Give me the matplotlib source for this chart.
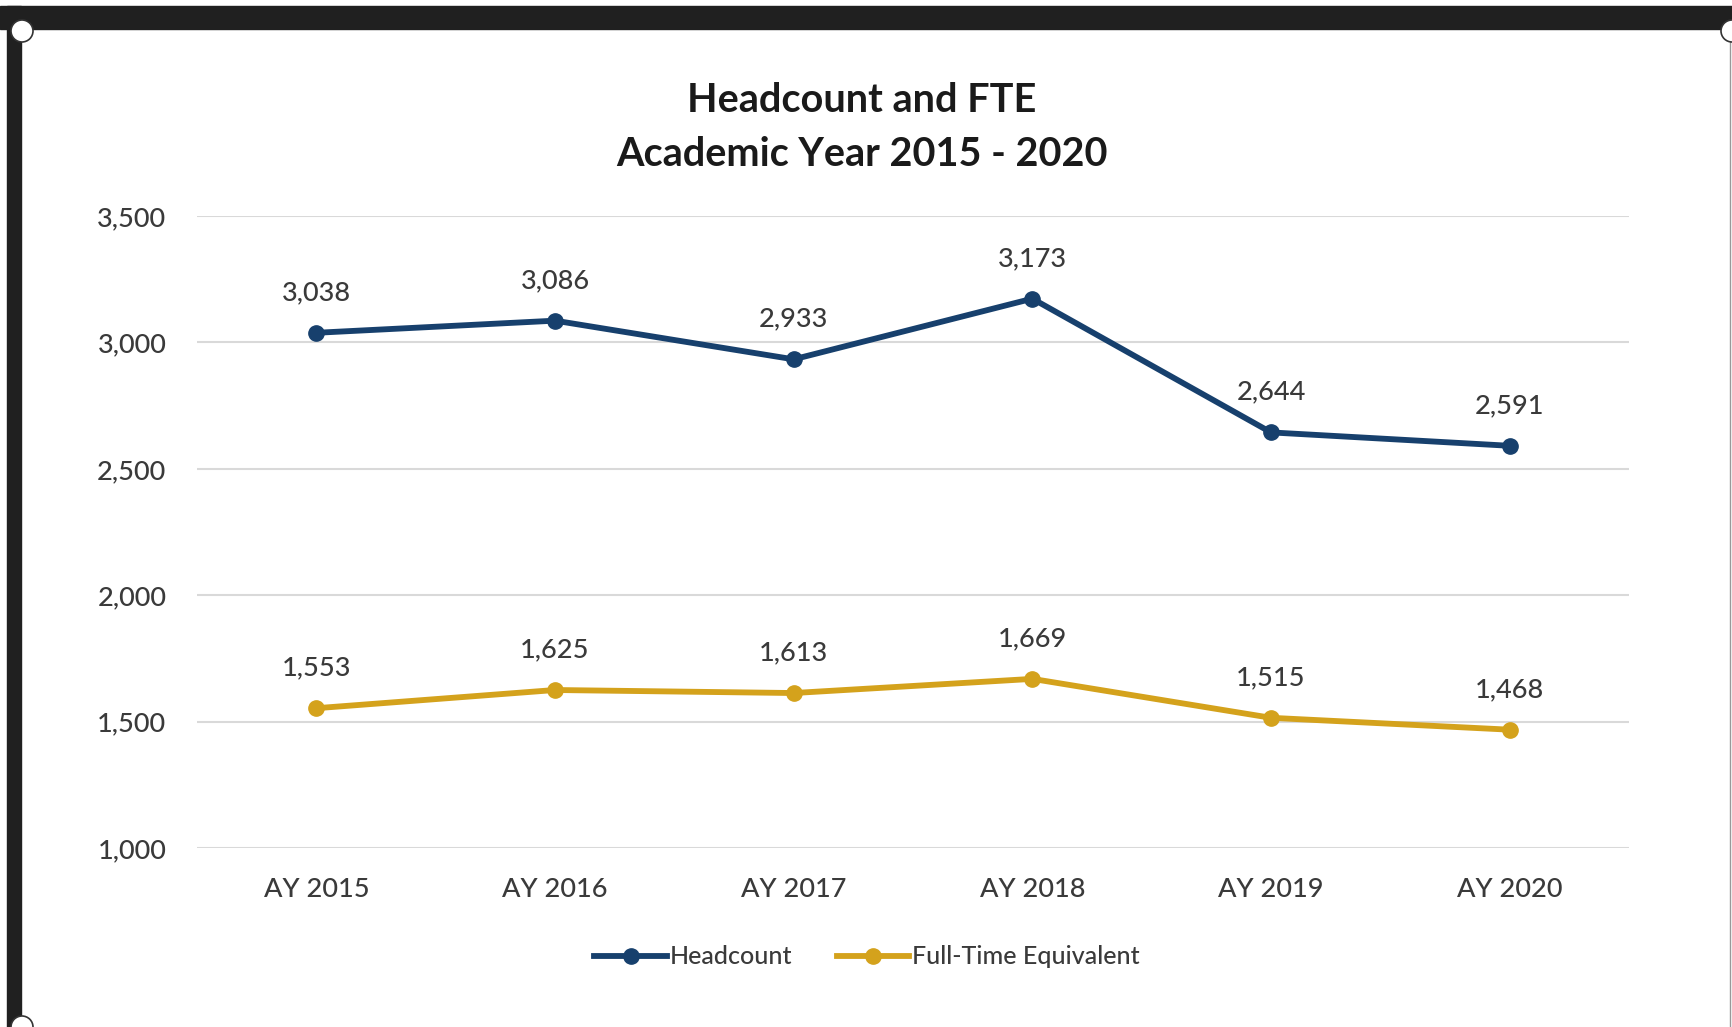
import matplotlib.pyplot as plt
from matplotlib.patches import Ellipse, Rectangle
from matplotlib.ticker import FuncFormatter

years = ['AY 2015', 'AY 2016', 'AY 2017', 'AY 2018', 'AY 2019', 'AY 2020']
headcount = [3038, 3086, 2933, 3173, 2644, 2591]
fte = [1553, 1625, 1613, 1669, 1515, 1468]

NAVY = '#17406d'
GOLD = '#d4a21c'
TXT = '#3a3a3a'

plt.rcParams['font.family'] = ['Lato', 'DejaVu Sans']

fig = plt.figure(figsize=(17.32, 10.27), dpi=100)
W, H = 1732, 1027

# screenshot frame: dark band on top and left
fig.patches.append(Rectangle((0, 1 - 29 / H), 1, 23 / H, transform=fig.transFigure,
                             color='#202020', zorder=0))
fig.patches.append(Rectangle((7 / W, 0), 14 / W, 1 - 6 / H, transform=fig.transFigure,
                             color='#202020', zorder=0))
fig.lines.append(plt.Line2D([1730 / W, 1730 / W], [0, 1 - 29 / H], transform=fig.transFigure,
                            color='#999999', lw=1))
for cx, cy in [(22, 31), (1732, 31), (22, 1027)]:
    fig.patches.append(Ellipse((cx / W, 1 - cy / H), 22 / W, 22 / H, transform=fig.transFigure,
                               facecolor='white', edgecolor='#333333', lw=1.2, zorder=5))

ax = fig.add_axes([197 / W, 1 - 848 / H, (1629 - 197) / W, (848 - 216) / H])
x = range(len(years))
ax.plot(x, headcount, color=NAVY, lw=4.2, marker='o', ms=11, label='Headcount')
ax.plot(x, fte, color=GOLD, lw=4.2, marker='o', ms=11, label='Full-Time Equivalent')

for xi, v in zip(x, headcount):
    ax.annotate(f'{v:,}', (xi, v), xytext=(0, 29), textcoords='offset points',
                ha='center', va='center', fontsize=19.5, color=TXT, fontweight='medium')
for xi, v in zip(x, fte):
    ax.annotate(f'{v:,}', (xi, v), xytext=(0, 29), textcoords='offset points',
                ha='center', va='center', fontsize=19.5, color=TXT, fontweight='medium')

ax.set_xlim(-0.5, len(years) - 0.5)
ax.set_ylim(1000, 3500)
ax.set_yticks(range(1000, 3501, 500))
ax.yaxis.set_major_formatter(FuncFormatter(lambda v, p: f'{int(v):,}'))
ax.set_xticks(list(x))
ax.set_xticklabels(years)
ax.tick_params(length=0, labelsize=19.5, labelcolor=TXT)
ax.tick_params(axis='y', pad=22)
ax.tick_params(axis='x', pad=21)
for lab in ax.get_xticklabels() + ax.get_yticklabels():
    lab.set_fontweight('medium')
ax.grid(axis='y', color='#d9d9d9', lw=1.5)
ax.set_axisbelow(True)
for s in ax.spines.values():
    s.set_visible(False)

fig.text(862 / W, 1 - 100 / H, 'Headcount and FTE', ha='center', va='center',
         fontsize=28.5, fontweight='bold', color='#1a1a1a')
fig.text(862 / W, 1 - 154 / H, 'Academic Year 2015 - 2020', ha='center', va='center',
         fontsize=28.5, fontweight='bold', color='#1a1a1a')

leg = fig.legend(loc='center', bbox_to_anchor=(867 / W, 1 - 957 / H), ncol=2, frameon=False,
                 fontsize=18, handlelength=2.9, handletextpad=0.1, columnspacing=1.8,
                 labelcolor=TXT)
for t in leg.get_texts():
    t.set_fontweight('medium')

fig.savefig('out.png', dpi=100)
